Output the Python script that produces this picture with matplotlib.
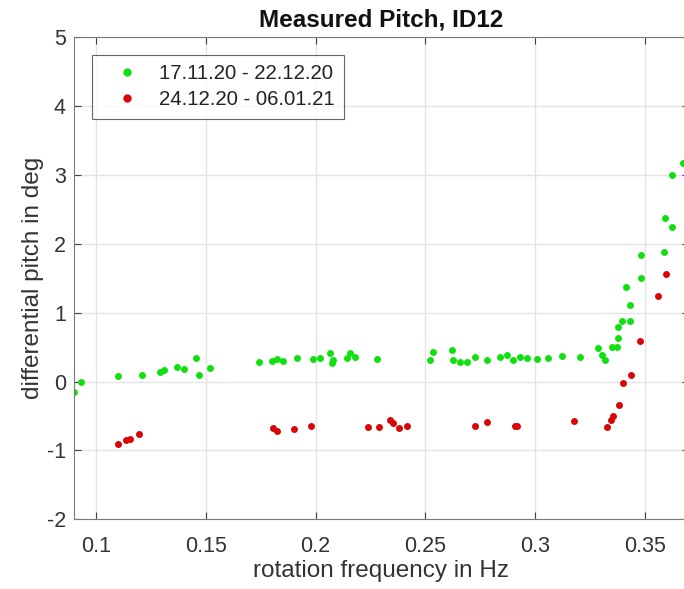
import numpy as np
import matplotlib.pyplot as plt

plt.rcParams['font.family'] = ['Liberation Sans', 'DejaVu Sans']
plt.rcParams['axes.unicode_minus'] = False

# 17.11.20 - 22.12.20
green_f = [0.0900, 0.0932, 0.110, 0.121, 0.129, 0.131, 0.137, 0.140, 0.1456, 0.147,
           0.152, 0.174, 0.180, 0.1825, 0.185, 0.1916, 0.199, 0.202, 0.2067, 0.2076,
           0.208, 0.2144, 0.2158, 0.218, 0.228, 0.2522, 0.2536, 0.262, 0.2627, 0.266,
           0.269, 0.2727, 0.278, 0.284, 0.2873, 0.290, 0.293, 0.2965, 0.301, 0.306,
           0.3124, 0.3206, 0.3288, 0.3306, 0.332, 0.3352, 0.3375, 0.338, 0.338, 0.3397,
           0.3434, 0.3434, 0.3416, 0.3484, 0.3484, 0.359, 0.3594, 0.3625, 0.3625, 0.3675]
green_p = [-0.15, 0.00, 0.08, 0.10, 0.14, 0.17, 0.21, 0.18, 0.34, 0.10,
           0.20, 0.28, 0.30, 0.33, 0.30, 0.34, 0.33, 0.34, 0.42, 0.27,
           0.31, 0.34, 0.42, 0.36, 0.33, 0.31, 0.43, 0.46, 0.31, 0.28,
           0.28, 0.36, 0.31, 0.36, 0.39, 0.31, 0.36, 0.34, 0.33, 0.34,
           0.37, 0.36, 0.49, 0.39, 0.31, 0.50, 0.50, 0.63, 0.79, 0.88,
           0.88, 1.11, 1.37, 1.50, 1.84, 1.88, 2.38, 2.24, 3.00, 3.17]

# 24.12.20 - 06.01.21
red_f = [0.110, 0.1137, 0.1155, 0.1196, 0.1807, 0.1825, 0.190, 0.198, 0.224, 0.229,
         0.234, 0.2354, 0.238, 0.2418, 0.2727, 0.278, 0.291, 0.292, 0.3179, 0.333,
         0.3346, 0.3355, 0.3384, 0.340, 0.3439, 0.348, 0.356, 0.3599]
red_p = [-0.91, -0.85, -0.83, -0.76, -0.67, -0.72, -0.69, -0.64, -0.66, -0.66,
         -0.56, -0.60, -0.67, -0.64, -0.64, -0.59, -0.64, -0.64, -0.57, -0.66,
         -0.56, -0.50, -0.34, -0.02, 0.10, 0.59, 1.24, 1.56]

xticks = [0.1, 0.15, 0.2, 0.25, 0.3, 0.35]
xticklabels = ['0.1', '0.15', '0.2', '0.25', '0.3', '0.35']
yticks = [-2, -1, 0, 1, 2, 3, 4, 5]

fig = plt.figure(figsize=(6.84, 5.89), dpi=100)
ax = fig.add_axes([74.3 / 684, 69.7 / 589, 614.3 / 684, 482 / 589])

ax.plot(green_f, green_p, 'o', color='#10e010', markersize=5, markeredgewidth=0,
        label='17.11.20 - 22.12.20')
ax.plot(red_f, red_p, 'o', color='#d80606', markersize=5, markeredgewidth=0,
        label='24.12.20 - 06.01.21')

ax.set_xlim(0.09, 0.37)
ax.set_ylim(-2, 5)
ax.set_xticks(xticks)
ax.set_xticklabels(xticklabels)
ax.set_yticks(yticks)
ax.grid(True, color='#e4e4e4', linewidth=1)
ax.set_axisbelow(True)
ax.tick_params(direction='in', length=5, top=True, right=True, labelsize=15.5,
               colors='#404040', labelcolor='#333333')
ax.tick_params(axis='y', pad=6)
ax.tick_params(axis='x', pad=12)
for s in ax.spines.values():
    s.set_color('#7a7a7a')

ax.set_xlabel('rotation frequency in Hz', fontsize=17.5, color='#333333', labelpad=2)
ax.set_ylabel('differential pitch in deg', fontsize=17.5, color='#333333', labelpad=2)
ax.set_title('Measured Pitch, ID12', fontsize=17.5, fontweight='bold', color='#111111', pad=8)

leg = ax.legend(loc='upper left', bbox_to_anchor=(0.028, 0.963), fontsize=14.7,
                frameon=True, fancybox=False, edgecolor='#404040', borderpad=0.45,
                handlelength=2.6, handletextpad=0.25, labelspacing=0.35,
                markerscale=1.2, borderaxespad=0)
leg.get_frame().set_linewidth(0.8)
for t in leg.get_texts():
    t.set_color('#222222')

fig.savefig('out.png', dpi=100)
